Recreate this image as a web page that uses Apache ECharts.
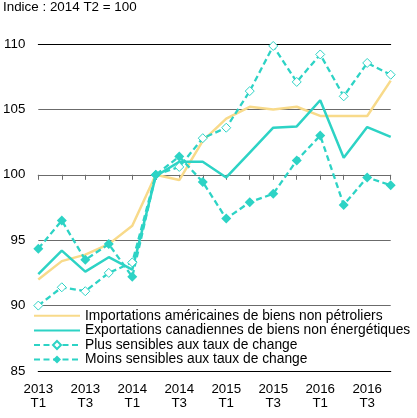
<!DOCTYPE html>
<html>
<head>
<meta charset="utf-8">
<script src="https://cdn.jsdelivr.net/npm/echarts@6/dist/echarts.min.js"></script>
<style>html,body{margin:0;padding:0;background:#fff}#c{width:417px;height:418px}</style>
</head>
<body>
<div id="c"></div>
<script>
var categories = ["2013 T1","2013 T2","2013 T3","2013 T4","2014 T1","2014 T2","2014 T3","2014 T4","2015 T1","2015 T2","2015 T3","2015 T4","2016 T1","2016 T2","2016 T3","2016 T4"];
var importations = [92.0, 93.4, 93.9, 94.7, 96.1, 100.0, 99.6, 102.6, 104.3, 105.2, 105.0, 105.2, 104.5, 104.5, 104.5, 107.2];
var exportations = [92.4, 94.2, 92.6, 93.7, 92.75, 99.9, 101.0, 101.0, 99.8, 101.7, 103.6, 103.7, 105.7, 101.3, 103.65, 102.9];
var plusSensibles = [90.0, 91.4, 91.1, 92.5, 93.3, 100.0, 100.6, 102.8, 103.6, 106.4, 109.85, 107.1, 109.2, 106.0, 108.55, 107.65];
var moinsSensibles = [94.35, 96.5, 93.5, 94.7, 92.2, 100.0, 101.4, 99.45, 96.65, 97.9, 98.55, 101.1, 103.0, 97.7, 99.8, 99.2];
var yTicks = [85, 90, 95, 100, 105, 110];
var seriesNames = ["Importations américaines de biens non pétroliers","Exportations canadiennes de biens non énergétiques","Plus sensibles aux taux de change","Moins sensibles aux taux de change"];

var yellow = '#f8da8a', cyan = '#2dd3c5';
var font = '"Liberation Sans", Arial, sans-serif';
var chart = echarts.init(document.getElementById('c'));
chart.setOption({
  animation: false,
  textStyle: {fontFamily: font},
  title: {text: 'Indice : 2014 T2 = 100', left: 3, top: 0, padding: [1, 0, 0, 0],
    textStyle: {fontSize: 13.4, fontWeight: 'normal', color: '#000', fontFamily: font}},
  grid: {left: 38.3, right: 26.3, top: 44, bottom: 47},
  legend: {
    orient: 'vertical', left: 33, top: 308.5, padding: 0, itemWidth: 46, itemHeight: 10, itemGap: 0,
    textStyle: {fontSize: 13.8, lineHeight: 14.6, color: '#000', fontFamily: font},
    data: [
      {name: seriesNames[0], itemStyle: {opacity: 0}},
      {name: seriesNames[1], itemStyle: {opacity: 0}},
      {name: seriesNames[2]},
      {name: seriesNames[3]}
    ]
  },
  xAxis: [
    {type: 'category', data: categories, boundaryGap: false, position: 'bottom',
     axisLine: {onZero: false, lineStyle: {color: '#000', width: 1.2}},
     axisTick: {show: false},
     axisLabel: {interval: 1, fontSize: 13.3, color: '#000', lineHeight: 14.5, margin: 11,
       formatter: function (v) { return v.replace(' ', '\n'); }},
     splitLine: {show: false}},
    {type: 'category', data: categories, boundaryGap: false, position: 'bottom',
     axisLine: {onZero: true, onZeroAxisIndex: 1, lineStyle: {color: '#6b6b6b', width: 1.2}},
     axisTick: {show: true, interval: 0, length: 5, lineStyle: {color: '#6b6b6b'}},
     axisLabel: {show: false}, splitLine: {show: false}},
    {type: 'category', data: categories, boundaryGap: false, position: 'top',
     axisLine: {onZero: false, lineStyle: {color: '#000', width: 1}},
     axisTick: {show: false}, axisLabel: {show: false}, splitLine: {show: false}}
  ],
  yAxis: [
    {type: 'value', min: yTicks[0], max: yTicks[yTicks.length - 1], interval: 5,
     axisLine: {show: false}, axisTick: {show: false},
     axisLabel: {fontSize: 13.3, color: '#000', margin: 13},
     splitLine: {lineStyle: {color: '#6b6b6b', width: 1.2}}},
    {type: 'value', min: yTicks[0] - 100, max: yTicks[yTicks.length - 1] - 100, show: false,
     splitLine: {show: false}}
  ],
  series: [
    {name: seriesNames[0], type: 'line', data: importations, showSymbol: false,
     lineStyle: {color: yellow, width: 2.5}, itemStyle: {color: 'rgba(0,0,0,0)'}},
    {name: seriesNames[1], type: 'line', data: exportations, showSymbol: false,
     lineStyle: {color: cyan, width: 2.5}, itemStyle: {color: 'rgba(0,0,0,0)'}},
    {name: seriesNames[2], type: 'line', data: plusSensibles, symbol: 'diamond', symbolSize: 9,
     lineStyle: {color: cyan, width: 2.3, type: [6, 3.5]},
     itemStyle: {color: '#fff', borderColor: cyan, borderWidth: 1}},
    {name: seriesNames[3], type: 'line', data: moinsSensibles, symbol: 'diamond', symbolSize: 10,
     lineStyle: {color: cyan, width: 2.3, type: [6, 3.5]},
     itemStyle: {color: cyan, borderColor: cyan, borderWidth: 0}}
  ]
});
</script>
</body>
</html>
